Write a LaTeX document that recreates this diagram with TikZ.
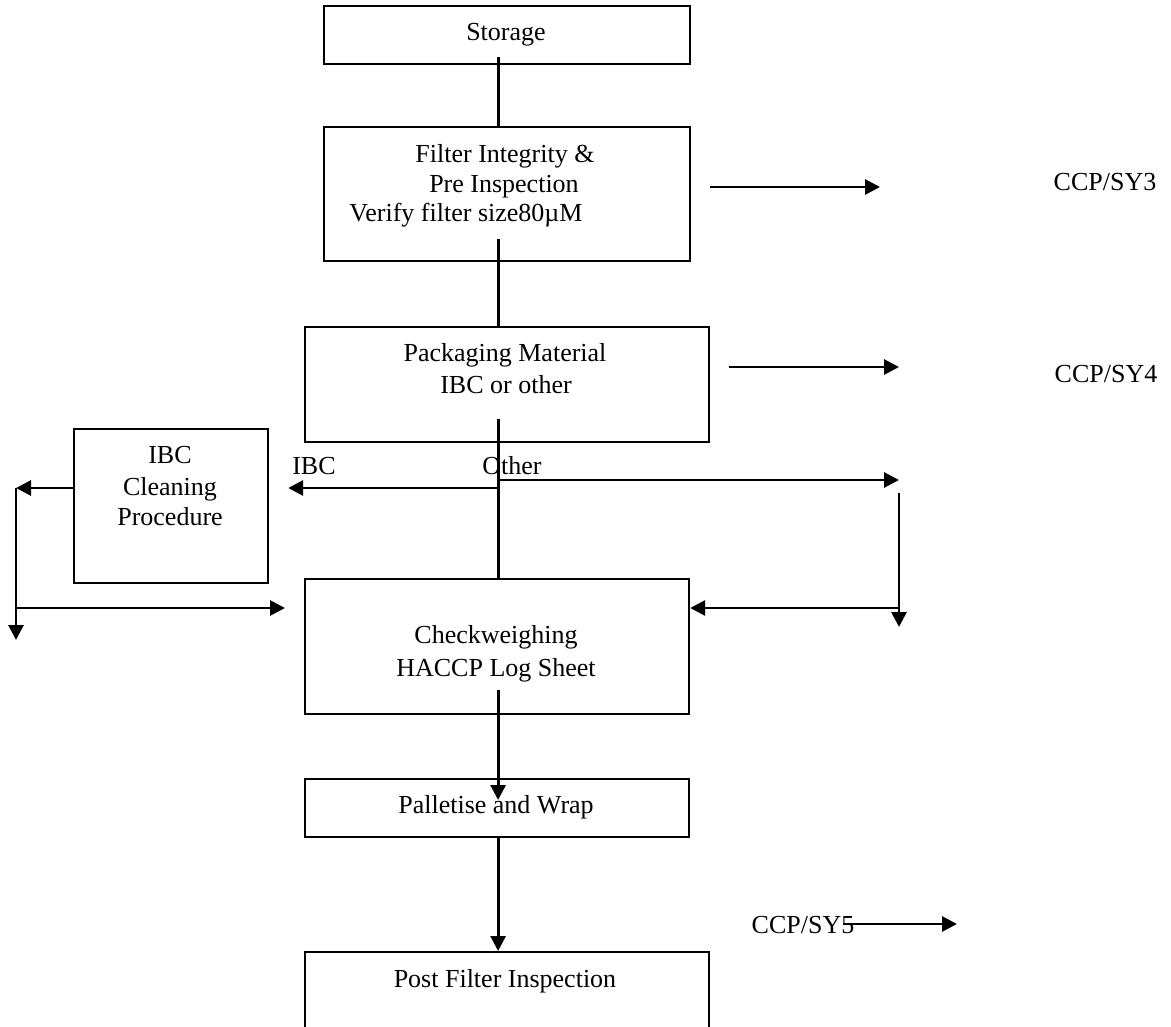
\documentclass[tikz,border=0pt]{standalone}
\usepackage{fontspec}
\setmainfont{Liberation Serif}
\usetikzlibrary{arrows.meta}
\begin{document}
\begin{tikzpicture}[x=1pt,y=-1pt,
  box/.style={draw, line width=2.2pt, inner sep=0pt, anchor=north west},
  lbl/.style={font=\fontsize{26}{30}\selectfont, anchor=base, inner sep=0pt},
  ln/.style={line width=2.8pt},
  arr/.style={line width=2.8pt, -{Triangle[length=15pt,width=15pt]}}]
\useasboundingbox (0,0) rectangle (1171,1027);
\clip (0,0) rectangle (1171,1027);
% boxes
\node[box, minimum width=366pt, minimum height=58pt]  (stor) at (323,5) {};
\node[box, minimum width=366pt, minimum height=134pt] (filt) at (323,126) {};
\node[box, minimum width=404pt, minimum height=115pt] (pack) at (304,326) {};
\node[box, minimum width=194pt, minimum height=154pt] (ibc)  at (73,428) {};
\node[box, minimum width=384pt, minimum height=135pt] (chk)  at (304,578) {};
\node[box, minimum width=384pt, minimum height=58pt]  (pal)  at (304,778) {};
\node[box, minimum width=404pt, minimum height=140pt] (post) at (304,951) {};
% texts
\node[lbl] (tstor) at (506,41) {Storage};
\node[lbl] (tf1) at (505,163) {Filter Integrity \&};
\node[lbl] (tf2) at (504,193) {Pre Inspection};
\node[lbl] (tf3) at (466,222) {Verify filter size80µM};
\node[lbl] (sy3) at (1105,191) {CCP/SY3};
\node[lbl] (tp1) at (505,362) {Packaging Material};
\node[lbl] (tp2) at (506,393) {IBC or other};
\node[lbl] (sy4) at (1106,382) {CCP/SY4};
\node[lbl] (ti1) at (170,463) {IBC};
\node[lbl] (ti2) at (170,495) {Cleaning};
\node[lbl] (ti3) at (170,525) {Procedure};
\node[lbl] (libc) at (314,474) {IBC};
\node[lbl] (loth) at (512,474) {Other};
\node[lbl] (tc1) at (496,643) {Checkweighing};
\node[lbl] (tc2) at (496,676) {HACCP Log Sheet};
\node[lbl] (tpal) at (496,813) {Palletise and Wrap};
\node[lbl] (sy5) at (803,933) {CCP/SY5};
\node[lbl] (tpost) at (505,987) {Post Filter Inspection};
% coordinates
\coordinate (a3) at (880,187);
\coordinate (a4) at (899,367);
\coordinate (br) at (497,488);
\coordinate (ob) at (497,480);
\coordinate (oe) at (899,480);
\coordinate (rv1) at (899,493);
\coordinate (rv2) at (899,627);
\coordinate (rb) at (899,608);
\coordinate (lv) at (16,488);
\coordinate (lve) at (16,640);
\coordinate (lb) at (16,608);
\coordinate (a5s) at (843,924);
\coordinate (a5e) at (957,924);
% connectors
\draw[ln] ([xshift=-9pt,yshift=8pt]stor.south) -- ([xshift=-9pt]filt.north);
\draw[ln] ([xshift=-9pt,yshift=23pt]filt.south) -- ([xshift=-9pt]pack.north);
\draw[ln] ([xshift=-9pt,yshift=24pt]pack.south) -- ([xshift=1pt]chk.north);
\draw[arr, shorten <=19pt] (a3 -| filt.east) -- (a3);
\draw[arr, shorten <=19pt] (a4 -| pack.east) -- (a4);
\draw[arr, shorten >=19pt] (br) -- (br -| ibc.east);
\draw[arr] (ob) -- (oe);
\draw[arr] (rv1) -- (rv2);
\draw[arr] (rb) -- (rb -| chk.east);
\draw[arr] (lv -| ibc.west) -- (lv);
\draw[arr] (lv) -- (lve);
\draw[arr, shorten >=19pt] (lb) -- (lb -| chk.west);
\draw[arr] ([xshift=1pt,yshift=25pt]chk.south) -- ([xshift=1pt,yshift=-22pt]pal.north);
\draw[arr] ([xshift=1pt]pal.south) -- ([xshift=-9pt]post.north);
\draw[arr] (a5s) -- (a5e);
\end{tikzpicture}
\end{document}
